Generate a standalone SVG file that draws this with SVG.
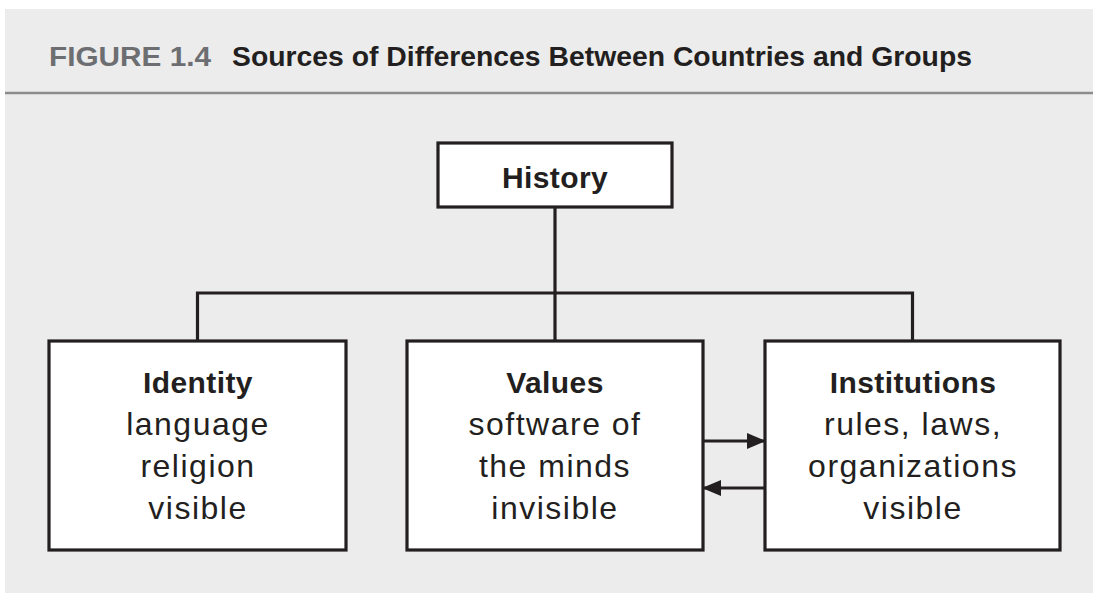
<svg xmlns="http://www.w3.org/2000/svg" width="1093" height="593" viewBox="0 0 1093 593">
  <style>
    .box { fill: #ffffff; stroke: #231f20; stroke-width: 3.2; }
    .line { fill: none; stroke: #231f20; stroke-width: 3.2; }
    .head { font-family: "Liberation Sans", Arial, sans-serif; font-weight: bold; font-size: 30px; fill: #231f20; text-anchor: middle; letter-spacing: 0.4px; }
    .body { font-family: "Liberation Sans", Arial, sans-serif; font-size: 32px; fill: #231f20; text-anchor: middle; letter-spacing: 1.5px; }
    .fig { font-family: "Liberation Sans", Arial, sans-serif; font-weight: bold; font-size: 27px; fill: #6d6e71; }
    .title { font-family: "Liberation Sans", Arial, sans-serif; font-weight: bold; font-size: 28px; fill: #231f20; }
  </style>
  <defs>
    <marker id="arrow" markerWidth="19" markerHeight="16" refX="18" refY="8" orient="auto" markerUnits="userSpaceOnUse">
      <path d="M0,0 L19,8 L0,16 Z" fill="#231f20"/>
    </marker>
  </defs>
  <rect x="0" y="0" width="1093" height="593" fill="#ffffff"/>
  <rect x="5" y="9" width="1088" height="584" fill="#ececec"/>
  <line x1="5" y1="93" x2="1093" y2="93" stroke="#8c8c8c" stroke-width="2.5"/>
  <g id="title">
    <text class="fig" x="49" y="66" textLength="162" lengthAdjust="spacingAndGlyphs">FIGURE 1.4</text>
    <text class="title" x="232" y="66" textLength="740" lengthAdjust="spacingAndGlyphs">Sources of Differences Between Countries and Groups</text>
  </g>
  <g id="connectors">
    <line class="line" x1="555" y1="207" x2="555" y2="341"/>
    <polyline class="line" points="197.5,341 197.5,293 912.5,293 912.5,341"/>
    <line class="line" x1="703" y1="441" x2="765" y2="441" marker-end="url(#arrow)"/>
    <line class="line" x1="765" y1="488" x2="703" y2="488" marker-end="url(#arrow)"/>
  </g>
  <g id="history">
    <rect class="box" x="438" y="143" width="234" height="64"/>
    <text class="head" x="555" y="188">History</text>
  </g>
  <g id="identity">
    <rect class="box" x="49" y="341" width="297" height="209"/>
    <text class="head" x="198" y="393">Identity</text>
    <text class="body" x="198" y="435">language</text>
    <text class="body" x="198" y="477">religion</text>
    <text class="body" x="198" y="519">visible</text>
  </g>
  <g id="values">
    <rect class="box" x="407" y="341" width="296" height="209"/>
    <text class="head" x="555" y="393">Values</text>
    <text class="body" x="555" y="435">software of</text>
    <text class="body" x="555" y="477">the minds</text>
    <text class="body" x="555" y="519">invisible</text>
  </g>
  <g id="institutions">
    <rect class="box" x="765" y="341" width="295" height="209"/>
    <text class="head" x="913" y="393">Institutions</text>
    <text class="body" x="913" y="435">rules, laws,</text>
    <text class="body" x="913" y="477">organizations</text>
    <text class="body" x="913" y="519">visible</text>
  </g>
</svg>
